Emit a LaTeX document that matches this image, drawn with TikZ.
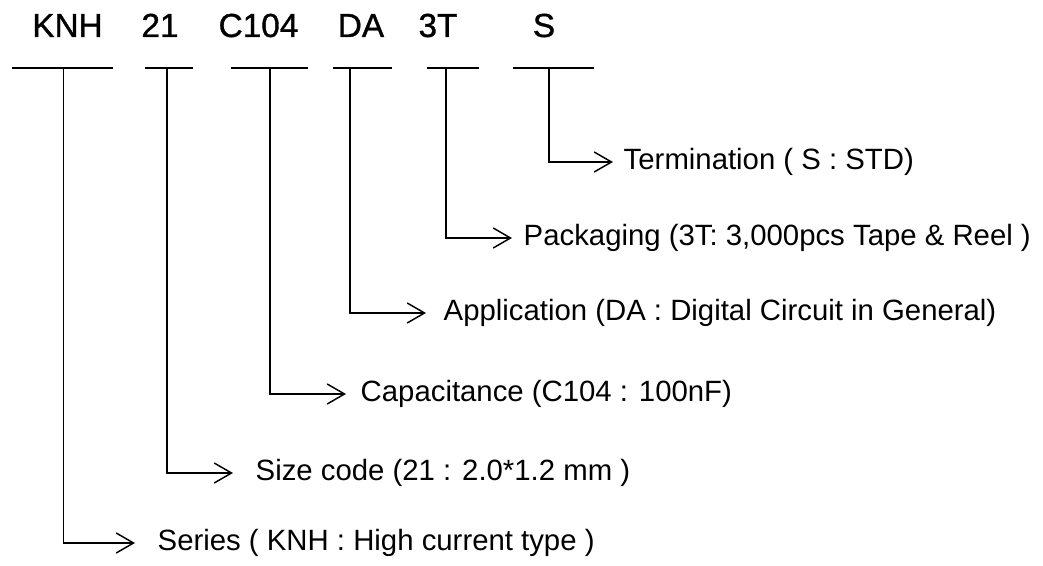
\documentclass[tikz,border=0pt]{standalone}
\usepackage{fontspec}
\setmainfont{Liberation Sans}
\newfontfamily\codefont{Liberation Sans}[FakeBold=1]
\usetikzlibrary{arrows.meta}

\tikzset{every picture/.style={line width=1.1pt}}
\tikzset{code/.style={anchor=base,inner sep=0pt,font=\codefont\fontsize{25}{30}\selectfont},
  desc/.style={anchor=west,inner sep=0pt,font=\fontsize{22}{26}\selectfont},
  arr/.style={-{Straight Barb[length=13pt,width=15pt]}}}

\begin{document}
\begin{tikzpicture}[x=0.75pt,y=0.75pt,yscale=-1,xscale=1]
\useasboundingbox (0,0) rectangle (1043,566);

% Text Node
\node[code] (knh) at (67.5,37) {KNH};
% Text Node
\node[code] (size) at (160,37) {21};
% Text Node
\node[code] (cap) at (258.5,37) {C104};
% Text Node
\node[code] (appl) at (361,37) {DA};
% Text Node
\node[code] (pack) at (438,37) {3T};
% Text Node
\node[code] (term) at (544,37) {S};

%Straight Lines
\draw (12,68) -- (113,68) coordinate[pos=0.51] (vKNH);
\draw (145,68) -- (193,68) coordinate[pos=0.458] (vSize);
\draw (231,68) -- (308,68) coordinate[pos=0.506] (vCap);
\draw (333,68) -- (392,68) coordinate[pos=0.288] (vAppl);
\draw (427,68) -- (479,68) coordinate[pos=0.365] (vPack);
\draw (513,68) -- (594,68) coordinate[pos=0.444] (vTerm);

%Arrow tips
\coordinate (tTerm) at (613,162);
\coordinate (tPack) at (512,238);
\coordinate (tAppl) at (426,313);
\coordinate (tCap) at (346,394);
\coordinate (tSize) at (233,473);
\coordinate (tKNH) at (135,543);

% Text Node
\node[desc] (dTerm) at (623,162) {Termination ( S : STD)};
% Text Node
\node[desc] (dPack) at (523,238) {Packaging (3T: 3,000pcs Tape \& Reel )};
% Text Node
\node[desc] (dAppl) at (443,313) {Application (DA : Digital Circuit in General)};
% Text Node
\node[desc] (dCap) at (360,394) {Capacitance (C104 : 100nF)};
% Text Node
\node[desc] (dSize) at (255,473) {Size code (21 : 2.0*1.2 mm )};
% Text Node
\node[desc] (dKNH) at (157,543) {Series ( KNH : High current type )};

%Connectors
\draw[arr] (vTerm) |- (tTerm);
\draw[arr] (vPack) |- (tPack);
\draw[arr] (vAppl) |- (tAppl);
\draw[arr] (vCap) |- (tCap);
\draw[arr] (vSize) |- (tSize);
\draw[arr] (vKNH) |- (tKNH);

\end{tikzpicture}
\end{document}
